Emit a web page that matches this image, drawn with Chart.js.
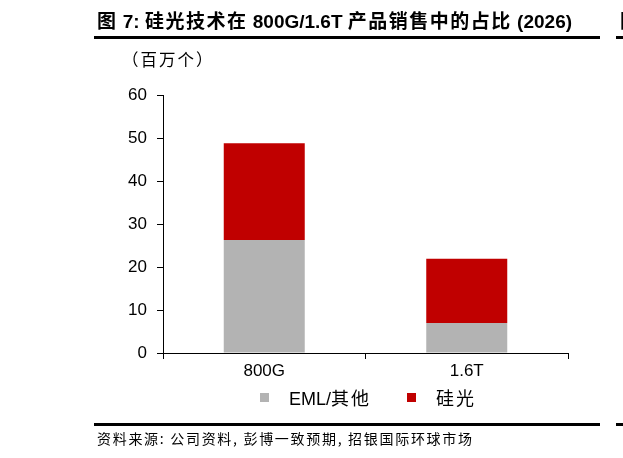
<!DOCTYPE html>
<html>
<head>
<meta charset="utf-8">
<script src="https://cdn.jsdelivr.net/npm/chart.js@4.4.1/dist/chart.umd.min.js"></script>
<style>
  body { margin: 0; background: #fff; font-family: "Liberation Sans", Arial, sans-serif; }
  #wrap { position: relative; width: 623px; height: 458px; overflow: hidden; }
  #chart { position: absolute; left: 0; top: 0; }
  .cjk { font-family: "Noto Sans CJK SC"; }
  .title { position: absolute; left: 97px; top: 6px; font-size: 19px; font-weight: bold; color: #000; white-space: nowrap; }
  .title .cjk { font-weight: bold; letter-spacing: 1.5px; }
  .rule { position: absolute; left: 94px; width: 506px; height: 3px; background: #000; }
  .unit { position: absolute; left: 122px; top: 47px; font-family: "Noto Sans CJK SC"; font-size: 16.5px; letter-spacing: 2px; color: #000; }
  .legend { position: absolute; top: 385px; left: 260px; font-size: 18px; color: #000; white-space: nowrap; display: flex; align-items: center; height: 24px; }
  .legend .box { display: inline-block; width: 9px; height: 9px; margin-right: 20px; }
  .legend .item { display: flex; align-items: center; margin-right: 36px; }
  .legend .cjk { letter-spacing: 2px; }
  .source { position: absolute; left: 97px; top: 428px; font-family: "Noto Sans CJK SC"; font-size: 14px; letter-spacing: 1.7px; color: #000; white-space: nowrap; }
  .next { position: absolute; left: 620px; top: 6px; font-size: 19px; font-weight: bold; font-family: "Noto Sans CJK SC"; color: #000; }
</style>
</head>
<body>
<div id="wrap">
  <canvas id="chart" width="623" height="458"></canvas>
  <div class="title"><span class="cjk">图</span> 7: <span class="cjk">硅光技术在</span> 800G/1.6T <span class="cjk">产品销售中的占比</span> (2026)</div>
  <div class="next">图</div>
  <div class="rule" style="top:36px"></div>
  <div class="rule" style="left:616px;width:7px;top:36px"></div>
  <div class="unit">（百万个）</div>
  <div class="legend" id="legend"></div>
  <div class="rule" style="top:423px"></div>
  <div class="rule" style="left:616px;width:7px;top:423px"></div>
  <div class="source">资料来源: 公司资料, 彭博一致预期, 招银国际环球市场</div>
</div>
<script>
// Data (millions of units)
const categories = ['800G', '1.6T'];
const emlOther = [26.3, 7.0];
const siPhotonics = [22.5, 14.9];
const seriesNames = ['EML/其他', '硅光'];
const seriesColors = ['#b3b3b3', '#c00000'];
const yTicks = [0, 10, 20, 30, 40, 50, 60];

const ctx = document.getElementById('chart');
const chart = new Chart(ctx, {
    type: 'bar',
    data: {
        labels: categories,
        datasets: [
            { label: seriesNames[0], data: emlOther, backgroundColor: seriesColors[0], barPercentage: 0.4, categoryPercentage: 1.0 },
            { label: seriesNames[1], data: siPhotonics, backgroundColor: seriesColors[1], barPercentage: 0.4, categoryPercentage: 1.0 }
        ]
    },
    options: {
        responsive: false,
        animation: false,
        devicePixelRatio: 1,
        layout: { padding: { left: 0, right: 55, top: 95, bottom: 77 } },
        plugins: { legend: { display: false }, tooltip: { enabled: false } },
        scales: {
            x: {
                stacked: true,
                border: { color: '#000', width: 1 },
                grid: { display: true, drawOnChartArea: false, drawTicks: true, tickLength: 6, color: '#000', offset: true },
                ticks: { color: '#000', font: { family: 'Liberation Sans', size: 17 }, padding: 2 },
                afterFit: s => { s.height = 28; }
            },
            y: {
                stacked: true,
                min: 0,
                max: 60,
                afterBuildTicks: s => { s.ticks = yTicks.map(v => ({ value: v })); },
                border: { color: '#000', width: 1 },
                grid: { display: true, drawOnChartArea: false, drawTicks: true, tickLength: 6, color: '#000' },
                ticks: { color: '#000', font: { family: 'Liberation Sans', size: 17 }, padding: 10 },
                afterFit: s => { s.width = 163; }
            }
        }
    }
});

// HTML legend built from the same series info
const legend = document.getElementById('legend');
seriesNames.forEach((name, i) => {
    const item = document.createElement('span');
    item.className = 'item';
    const box = document.createElement('span');
    box.className = 'box';
    box.style.background = seriesColors[i];
    const txt = document.createElement('span');
    txt.innerHTML = name.replace(/([^\x00-\x7f]+)/g, '<span class="cjk">$1</span>');
    item.appendChild(box);
    item.appendChild(txt);
    legend.appendChild(item);
});
</script>
</body>
</html>
